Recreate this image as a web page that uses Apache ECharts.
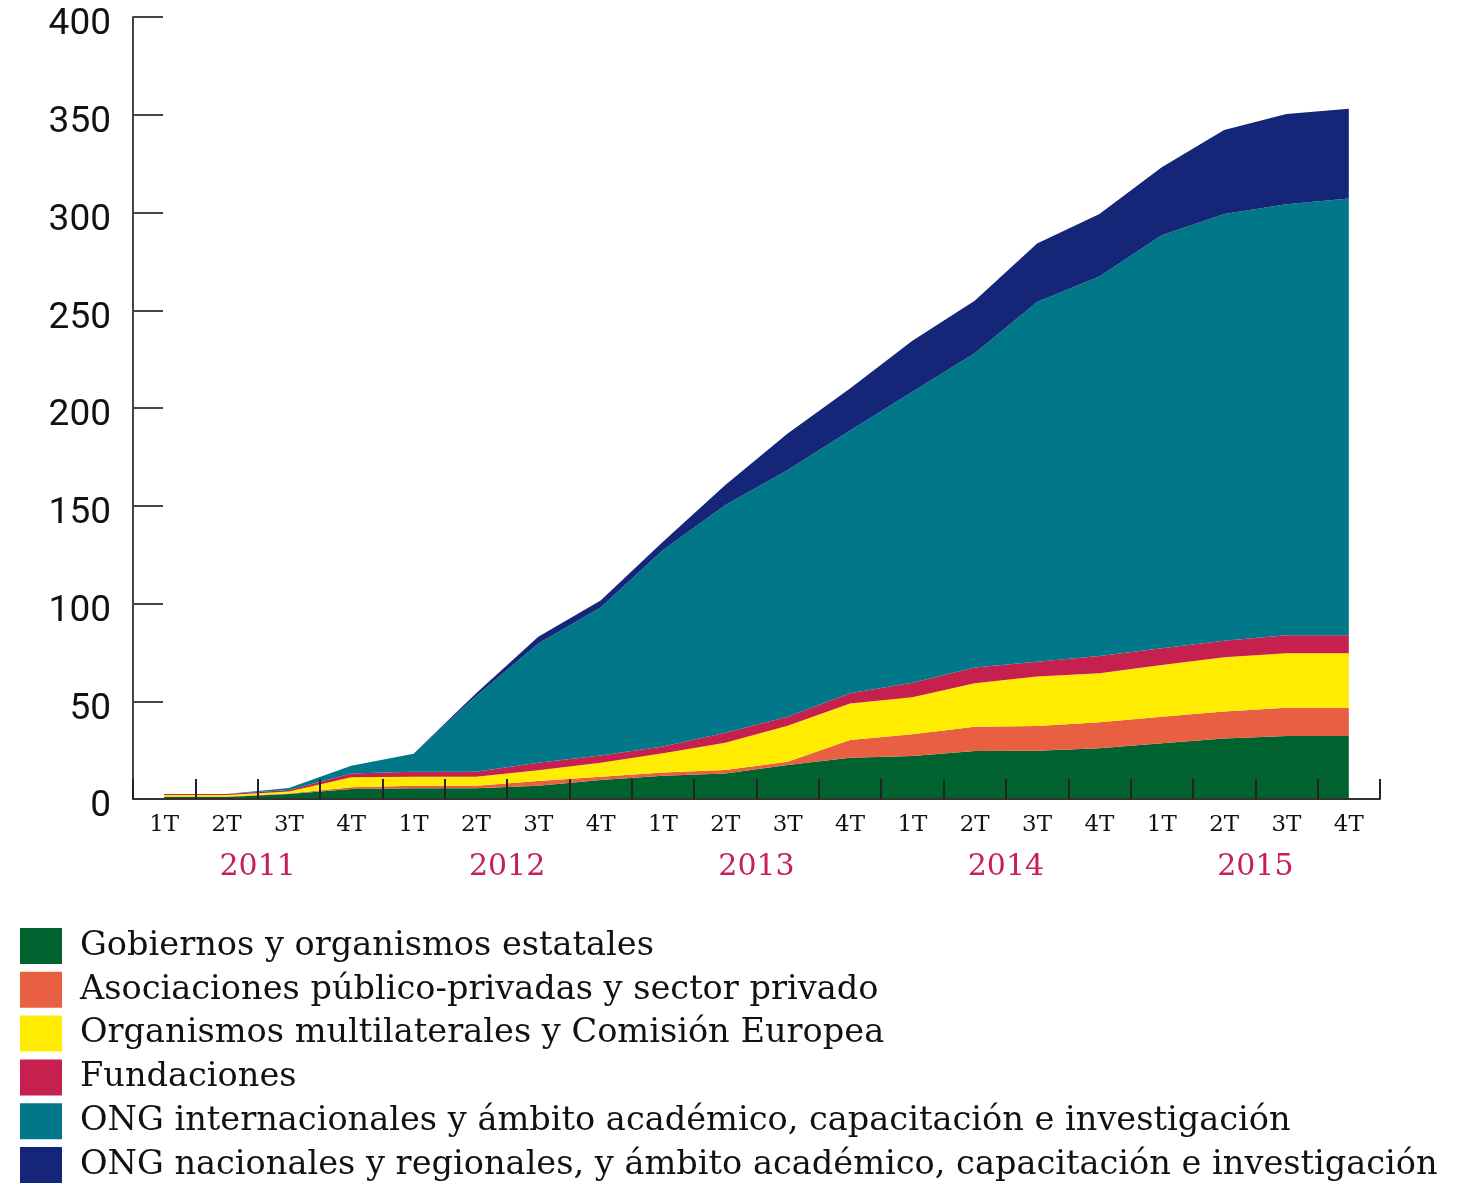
<!DOCTYPE html>
<html>
<head>
<meta charset="utf-8">
<script src="https://cdn.jsdelivr.net/npm/echarts@6/dist/echarts.min.js"></script>
<style>
html,body{margin:0;padding:0;background:#fff;}
#chart{width:1468px;height:1189px;}
</style>
</head>
<body>
<div id="chart"></div>
<script>
const quarters = ['1T','2T','3T','4T','1T','2T','3T','4T','1T','2T','3T','4T','1T','2T','3T','4T','1T','2T','3T','4T'];
const years = ['2011','2012','2013','2014','2015'];
const yTicks = [0,50,100,150,200,250,300,350,400];

const seriesNames = [
  'Gobiernos y organismos estatales',
  'Asociaciones público-privadas y sector privado',
  'Organismos multilaterales y Comisión Europea',
  'Fundaciones',
  'ONG internacionales y ámbito académico, capacitación e investigación',
  'ONG nacionales y regionales, y ámbito académico, capacitación e investigación'
];
const gobiernos     = [1, 1, 2.5, 5.1, 5.5, 5.5, 6.8, 9.7, 11.9, 13.1, 17.4, 21.1, 22, 24.6, 24.7, 25.9, 28.5, 31, 32.2, 32.2];
const asociaciones  = [0.3, 0.3, 0.3, 0.9, 1.3, 1.3, 2.4, 1.7, 1.6, 1.7, 1.7, 9.1, 11.1, 12.4, 12.6, 13.3, 13.6, 13.7, 14.5, 14.5];
const multilaterales= [0.7, 0.7, 1, 5.1, 4.6, 4.6, 5.5, 7.2, 9.9, 14, 18.4, 18.7, 18.9, 22.2, 25.3, 25.1, 26.4, 27.8, 27.8, 27.8];
const fundaciones   = [0.5, 0.5, 0.8, 2, 2.6, 2.6, 3.9, 3.6, 3.4, 5.1, 4.6, 5.2, 7.5, 8, 7.6, 8.8, 8.6, 8.5, 9.2, 9.2];
const ongInternac   = [0, 0, 1, 3.9, 9.2, 38.5, 61, 75.8, 100.6, 116.5, 126.2, 134.4, 148.8, 160.8, 184, 194.1, 211.2, 218.2, 220.5, 223.4];
const ongNacionales = [0, 0, 0, 0, 0, 1.5, 3.4, 3.5, 4.2, 10.2, 18.7, 21.5, 26.1, 26.9, 30, 32, 34.8, 43, 46.2, 46];

const colors = ['#00622f','#e85f41','#ffec00','#c5204e','#00788a','#152678'];
const allData = [gobiernos, asociaciones, multilaterales, fundaciones, ongInternac, ongNacionales];

const chart = echarts.init(document.getElementById('chart'), null, {renderer:'canvas'});
const series = allData.map((d,i)=>({
  name: seriesNames[i],
  type: 'line',
  stack: 'total',
  data: d,
  xAxisIndex: 0,
  yAxisIndex: 0,
  showSymbol: false,
  symbol: 'none',
  lineStyle: {width: 0, color: colors[i]},
  itemStyle: {color: colors[i]},
  areaStyle: {color: colors[i], opacity: 1},
  emphasis: {disabled: true},
  silent: true,
  z: 2
}));

chart.setOption({
  animation: false,
  backgroundColor: '#ffffff',
  color: colors,
  grid: {left: 133, right: 88, top: 17, bottom: 390, containLabel: false, outerBoundsMode: 'none'},
  xAxis: [{
    type: 'category',
    data: quarters,
    boundaryGap: true,
    z: 10,
    axisLine: {show: true, lineStyle: {color: '#333', width: 2}},
    axisTick: {show: true, inside: true, length: 20, lineStyle: {color: '#222', width: 2}},
    axisLabel: {fontFamily: 'DejaVu Serif', fontSize: 23, color: '#111', margin: 15}
  },{
    type: 'category',
    data: years,
    position: 'bottom',
    boundaryGap: true,
    axisLine: {show: false},
    axisTick: {show: false},
    axisLabel: {fontFamily: 'DejaVu Serif', fontSize: 30, color: '#c5204e', margin: 53}
  }],
  yAxis: {
    type: 'value',
    min: yTicks[0],
    max: yTicks[yTicks.length-1],
    interval: 50,
    splitLine: {show: false},
    axisLine: {show: true, lineStyle: {color: '#444', width: 2}},
    axisTick: {show: true, inside: true, length: 30, lineStyle: {color: '#444', width: 2}},
    axisLabel: {fontFamily: 'Roboto', fontSize: 37, color: '#111', margin: 22, lineHeight: 16,
      formatter: v => '\n' + v}
  },
  legend: {
    orient: 'vertical',
    left: 20,
    top: 928,
    height: 270,
    padding: 0,
    itemWidth: 42,
    itemHeight: 36,
    itemGap: 7.8,
    icon: 'rect',
    selectedMode: false,
    data: seriesNames,
    textStyle: {fontFamily: 'DejaVu Serif', fontSize: 33.6, color: '#111', padding: [0,0,0,13]}
  },
  series: series
});
</script>
</body>
</html>
